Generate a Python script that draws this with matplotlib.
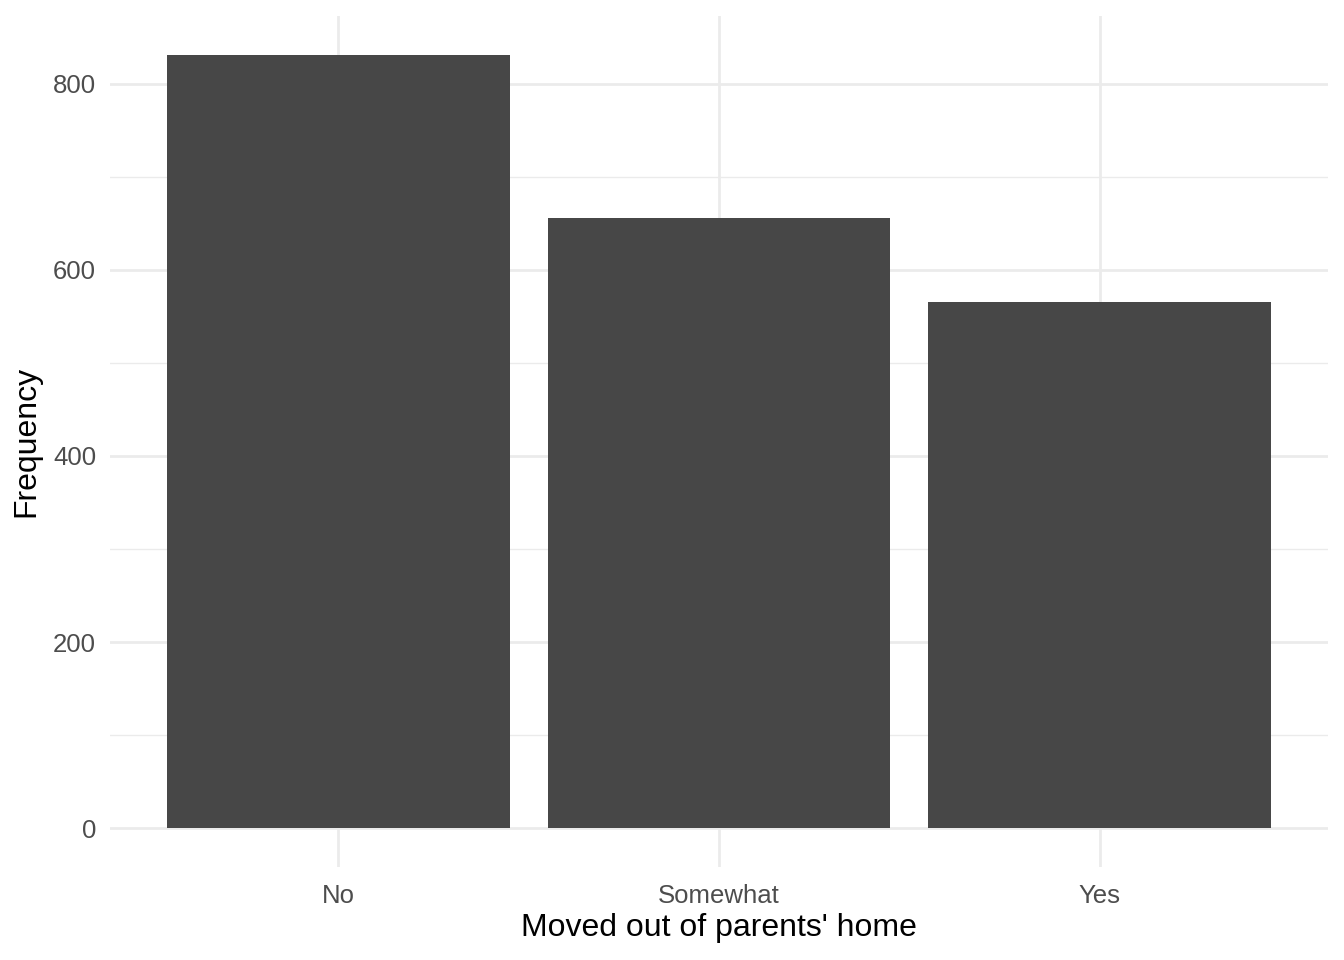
import matplotlib
matplotlib.use("Agg")
import matplotlib.pyplot as plt
from matplotlib.ticker import MultipleLocator

categories = ["No", "Somewhat", "Yes"]
counts = [831, 656, 565]
yticks = [0, 200, 400, 600, 800]

plt.rcParams['font.family'] = ['Liberation Sans', 'DejaVu Sans']

fig = plt.figure(figsize=(13.44, 9.6), dpi=100)
ax = fig.add_axes([110/1344, 1 - 867/960, (1328-110)/1344, (867-16)/960])

x = list(range(len(categories)))
ax.bar(x, counts, width=0.9, color="#474747", zorder=3)

ax.set_xlim(-0.6, len(categories) - 0.4)
ymax = max(counts)
ax.set_ylim(-0.05 * ymax, 1.05 * ymax)
ax.set_xticks(x)
ax.set_xticklabels(categories)
ax.set_yticks(yticks)
ax.yaxis.set_minor_locator(MultipleLocator(100))

for s in ax.spines.values():
    s.set_visible(False)
ax.grid(which='major', axis='both', color='#EBEBEB', linewidth=2.0, zorder=0)
ax.grid(which='minor', axis='y', color='#EBEBEB', linewidth=1.0, zorder=0)
ax.tick_params(which='both', length=0, labelsize=18.5, labelcolor='#4D4D4D')
ax.tick_params(axis='x', pad=12)
ax.tick_params(axis='y', pad=10)
ax.set_xlabel("Moved out of parents' home", fontsize=23, color='black', labelpad=4)
ax.set_ylabel("Frequency", fontsize=23, color='black', labelpad=8)

fig.savefig("out.png", dpi=100, facecolor='white')
